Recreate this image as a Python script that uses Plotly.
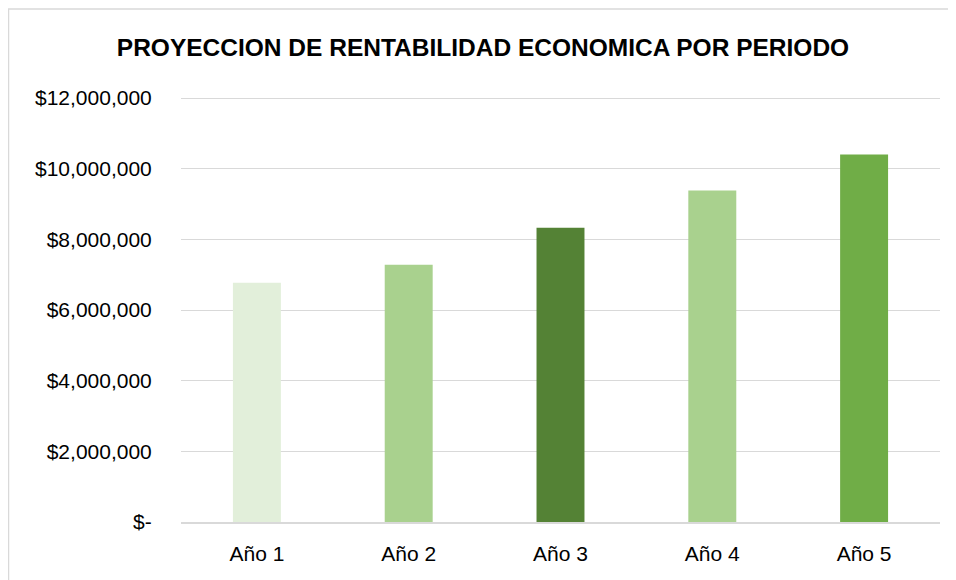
import plotly.graph_objects as go

categories = ["Año 1", "Año 2", "Año 3", "Año 4", "Año 5"]
values = [6770000, 7280000, 8330000, 9380000, 10400000]
colors = ["#E2EFDA", "#A9D18E", "#548235", "#A9D18E", "#70AD47"]
tick_vals = [0, 2000000, 4000000, 6000000, 8000000, 10000000, 12000000]
tick_text = ["$-", "$2,000,000", "$4,000,000", "$6,000,000", "$8,000,000", "$10,000,000", "$12,000,000"]
title = "PROYECCION DE RENTABILIDAD ECONOMICA POR PERIODO"

font_family = "Liberation Sans, Arial, sans-serif"

# page body has an 8px default margin; compensate
W, H = 948, 572
L, T, R, B = 173, 88, 16, 58
y_max = 12000000 * (H - T - B) / 424.0

fig = go.Figure(go.Bar(x=categories, y=values, marker=dict(color=colors, line=dict(width=0))))

fig.update_layout(
    width=W, height=H,
    margin=dict(l=L, r=R, t=T, b=B),
    paper_bgcolor="white", plot_bgcolor="white",
    bargap=0.684,
    showlegend=False,
    title=dict(text="<b>" + title + "</b>", x=475 / W, xanchor="center", xref="container",
               y=1 - 39 / H, yanchor="middle", yref="container",
               font=dict(family=font_family, size=24.5, color="#000000")),
    font=dict(family=font_family, size=21, color="#000000"),
)
fig.update_yaxes(range=[0, y_max], tickvals=tick_vals, ticktext=tick_text,
                 showgrid=True, gridcolor="#D9D9D9", gridwidth=1,
                 zeroline=False, showline=False,
                 ticks="outside", ticklen=24, tickcolor="rgba(0,0,0,0)",
                 tickfont=dict(size=21, color="#000000"))
fig.update_xaxes(showline=True, linecolor="#D9D9D9", linewidth=1.5,
                 ticks="outside", ticklen=12, tickcolor="rgba(0,0,0,0)",
                 tickfont=dict(size=21, color="#000000"))

pw, ph = W - L - R, H - T - B
fig.add_shape(type="rect", xref="paper", yref="paper",
              x0=(0.5 - L) / pw, x1=(W + 20 - L) / pw,
              y0=-(B + 20) / ph, y1=(ph + T - 1) / ph,
              line=dict(color="#D9D9D9", width=1.5), fillcolor="rgba(0,0,0,0)", layer="below")

fig.write_html("out.html")
